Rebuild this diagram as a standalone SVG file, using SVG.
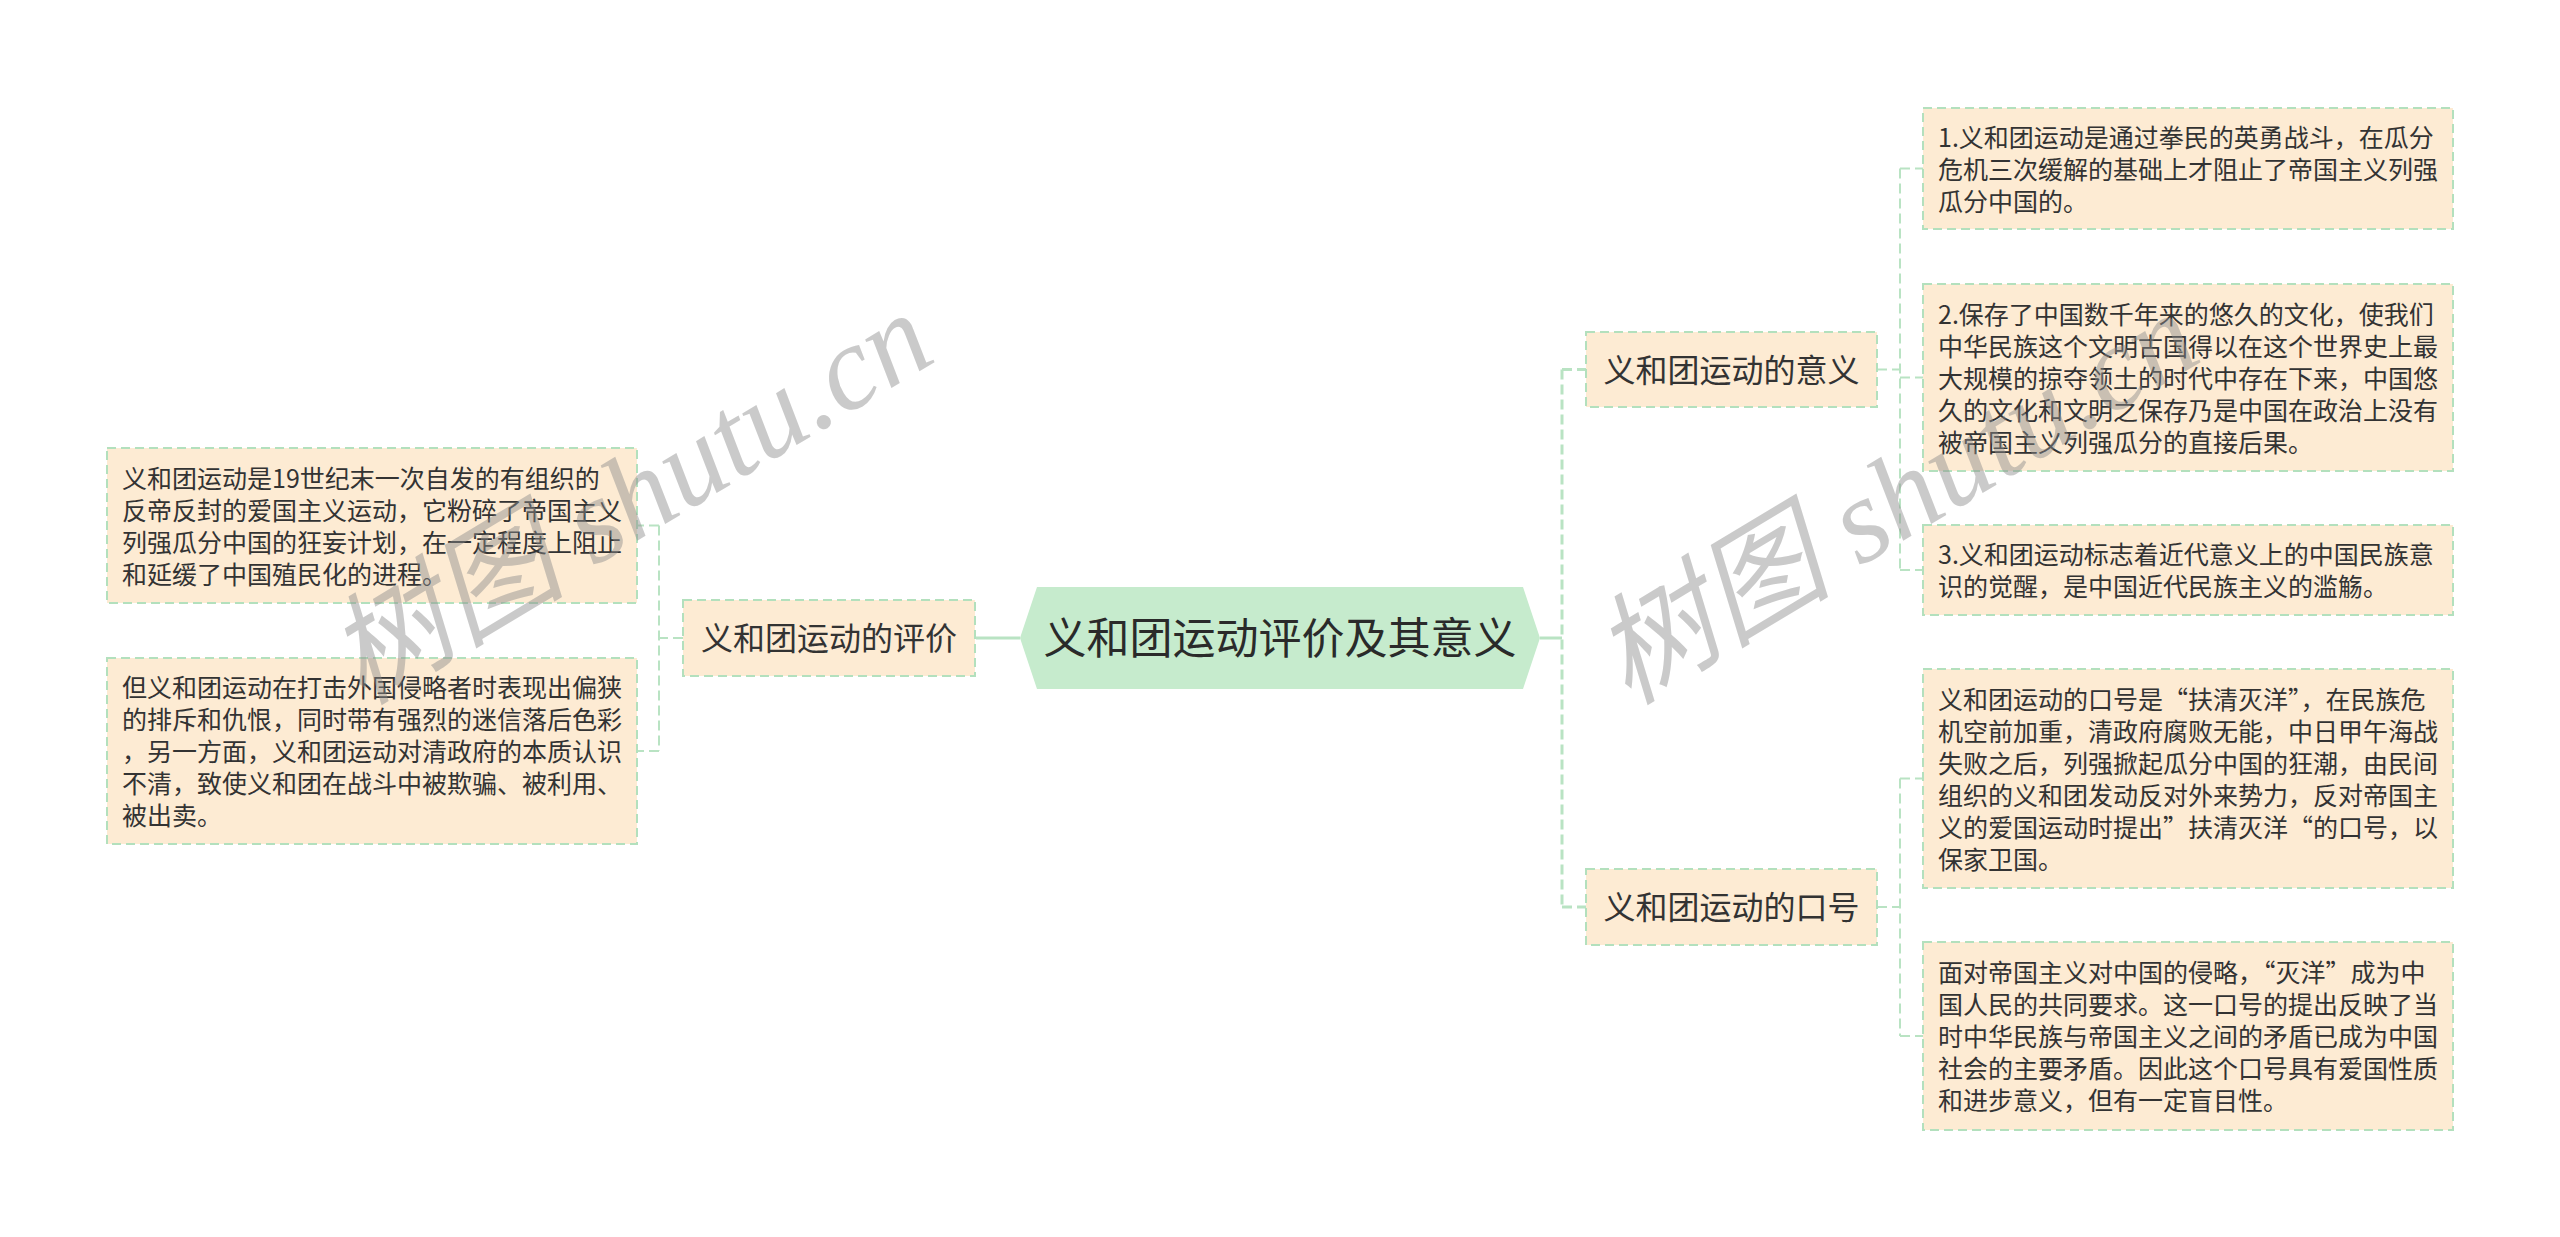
<svg xmlns="http://www.w3.org/2000/svg" width="2560" height="1237" viewBox="0 0 2560 1237">
<style>
.box{fill:#fdebd3;stroke:#b3e0bd;stroke-width:2;stroke-dasharray:9 5}
.t{font-family:"Noto Sans CJK SC","Noto Sans",sans-serif;fill:#333}
.leaf{font-size:25px}
.sub{font-size:32px;text-anchor:middle}
.root{font-size:43px;text-anchor:middle;fill:#2a2a2a}
.c{fill:none;stroke:#b9e3c3;stroke-width:2;stroke-dasharray:10 5}
.cm{fill:none;stroke:#b9e3c3;stroke-width:3}
.cv{fill:none;stroke:#b9e3c3;stroke-width:3;stroke-dasharray:10 5}
.wm{font-family:"Liberation Serif","Noto Sans CJK SC",serif;font-style:italic;font-size:120px;fill:#8c8c8c;opacity:0.45}
</style>
<rect x="0" y="0" width="2560" height="1237" fill="#ffffff"/>
<g id="connectors">
<line class="cm" x1="976" y1="638" x2="1020" y2="638"/>
<path class="c" d="M683 638 H659 M659 525.5 V751 M659 525.5 H637 M659 751 H637"/>
<line class="cm" x1="1540" y1="638" x2="1562" y2="638"/>
<path class="cv" d="M1562 369.5 V907 M1562 369.5 H1586 M1562 907 H1586"/>
<path class="c" d="M1877 369.5 H1900 M1900 168.5 V570 M1900 168.5 H1923 M1900 377.5 H1923 M1900 570 H1923"/>
<path class="c" d="M1877 907 H1900 M1900 778.5 V1036 M1900 778.5 H1923 M1900 1036 H1923"/>
</g>
<g id="root">
<polygon points="1020,638 1037,587 1523,587 1540,638 1523,689 1037,689" fill="#c6ebcd"/>
<text class="t root" x="1280" y="654">义和团运动评价及其意义</text>
</g>
<g id="n-eval">
<rect class="box" x="683" y="600" width="292" height="76"/>
<text class="t sub" x="829" y="650">义和团运动的评价</text>
</g>
<g id="n-eval-1">
<rect class="box" x="107" y="448" width="530" height="155"/>
<text class="t leaf"><tspan x="122" y="487.5">义和团运动是19世纪末一次自发的有组织的</tspan><tspan x="122" y="519.5">反帝反封的爱国主义运动，它粉碎了帝国主义</tspan><tspan x="122" y="551.5">列强瓜分中国的狂妄计划，在一定程度上阻止</tspan><tspan x="122" y="583.5">和延缓了中国殖民化的进程。</tspan></text>
</g>
<g id="n-eval-2">
<rect class="box" x="107" y="658" width="530" height="186"/>
<text class="t leaf"><tspan x="122" y="697">但义和团运动在打击外国侵略者时表现出偏狭</tspan><tspan x="122" y="729">的排斥和仇恨，同时带有强烈的迷信落后色彩</tspan><tspan x="122" y="761">，另一方面，义和团运动对清政府的本质认识</tspan><tspan x="122" y="793">不清，致使义和团在战斗中被欺骗、被利用、</tspan><tspan x="122" y="825">被出卖。</tspan></text>
</g>
<g id="n-meaning">
<rect class="box" x="1586" y="332" width="291" height="75"/>
<text class="t sub" x="1731.5" y="381.5">义和团运动的意义</text>
</g>
<g id="n-meaning-1">
<rect class="box" x="1923" y="108" width="530" height="121"/>
<text class="t leaf"><tspan x="1938" y="146.5">1.义和团运动是通过拳民的英勇战斗，在瓜分</tspan><tspan x="1938" y="178.5">危机三次缓解的基础上才阻止了帝国主义列强</tspan><tspan x="1938" y="210.5">瓜分中国的。</tspan></text>
</g>
<g id="n-meaning-2">
<rect class="box" x="1923" y="284" width="530" height="187"/>
<text class="t leaf"><tspan x="1938" y="323.5">2.保存了中国数千年来的悠久的文化，使我们</tspan><tspan x="1938" y="355.5">中华民族这个文明古国得以在这个世界史上最</tspan><tspan x="1938" y="387.5">大规模的掠夺领土的时代中存在下来，中国悠</tspan><tspan x="1938" y="419.5">久的文化和文明之保存乃是中国在政治上没有</tspan><tspan x="1938" y="451.5">被帝国主义列强瓜分的直接后果。</tspan></text>
</g>
<g id="n-meaning-3">
<rect class="box" x="1923" y="525" width="530" height="90"/>
<text class="t leaf"><tspan x="1938" y="564">3.义和团运动标志着近代意义上的中国民族意</tspan><tspan x="1938" y="596">识的觉醒，是中国近代民族主义的滥觞。</tspan></text>
</g>
<g id="n-slogan">
<rect class="box" x="1586" y="869" width="291" height="76"/>
<text class="t sub" x="1731.5" y="919">义和团运动的口号</text>
</g>
<g id="n-slogan-1">
<rect class="box" x="1923" y="669" width="530" height="219"/>
<text class="t leaf"><tspan x="1938" y="708.5">义和团运动的口号是“扶清灭洋”，在民族危</tspan><tspan x="1938" y="740.5">机空前加重，清政府腐败无能，中日甲午海战</tspan><tspan x="1938" y="772.5">失败之后，列强掀起瓜分中国的狂潮，由民间</tspan><tspan x="1938" y="804.5">组织的义和团发动反对外来势力，反对帝国主</tspan><tspan x="1938" y="836.5">义的爱国运动时提出”扶清灭洋“的口号，以</tspan><tspan x="1938" y="868.5">保家卫国。</tspan></text>
</g>
<g id="n-slogan-2">
<rect class="box" x="1923" y="942" width="530" height="188"/>
<text class="t leaf"><tspan x="1938" y="982">面对帝国主义对中国的侵略，“灭洋”成为中</tspan><tspan x="1938" y="1014">国人民的共同要求。这一口号的提出反映了当</tspan><tspan x="1938" y="1046">时中华民族与帝国主义之间的矛盾已成为中国</tspan><tspan x="1938" y="1078">社会的主要矛盾。因此这个口号具有爱国性质</tspan><tspan x="1938" y="1110">和进步意义，但有一定盲目性。</tspan></text>
</g>
<g id="watermark">
<text class="wm" transform="translate(362,706) rotate(-31)">树图 shutu.cn</text>
<text class="wm" transform="translate(1628,706) rotate(-31)">树图 shutu.cn</text>
</g>
</svg>
